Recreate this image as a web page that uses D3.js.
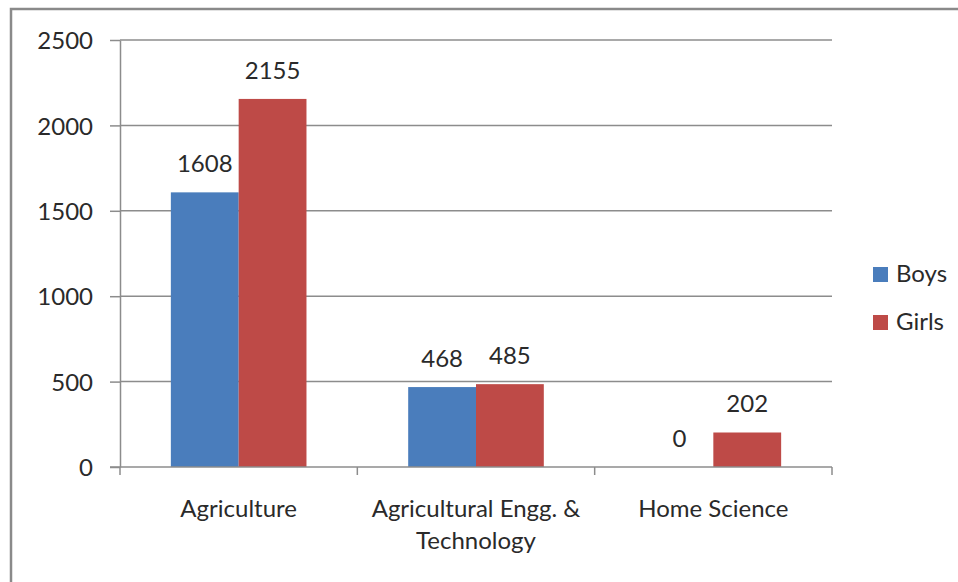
<!DOCTYPE html>
<html>
<head>
<meta charset="utf-8">
<script src="https://cdn.jsdelivr.net/npm/d3@7"></script>
<style>
  body { margin: 0; background: #fff; }
  svg { display: block; }
  text { font-family: Lato, "Open Sans", sans-serif; fill: #2a2a2a; }
</style>
</head>
<body>
<div id="chart"></div>
<script>
// chart data
var categories = ["Agriculture", "Agricultural Engg. & Technology", "Home Science"];
var categoryLines = [["Agriculture"], ["Agricultural Engg. &", "Technology"], ["Home Science"]];
var series = ["Boys", "Girls"];
var boys = [1608, 468, 0];
var girls = [2155, 485, 202];
var yTicks = [0, 500, 1000, 1500, 2000, 2500];

var colors = { Boys: "#4a7dbc", Girls: "#be4a47" };

var svgWidth = 958;
var svgHeight = 582;
var fontSize = "24px";

var plot = { left: 120, right: 832, top: 40, bottom: 467 };

var svg = d3.select("#chart")
  .append("svg")
  .attr("width", svgWidth)
  .attr("height", svgHeight);

// outer frame (right and bottom edges are off the picture)
svg.append("rect")
  .attr("x", 11)
  .attr("y", 9)
  .attr("width", 1000)
  .attr("height", 1000)
  .attr("fill", "none")
  .attr("stroke", "#8a8a8a")
  .attr("stroke-width", 2.5);

var x0 = d3.scaleBand()
  .domain(categories)
  .range([plot.left, plot.right])
  .padding(0);

var x1 = d3.scaleBand()
  .domain(series)
  .range([0, x0.bandwidth()])
  .paddingInner(0)
  .paddingOuter(0.75);

var y = d3.scaleLinear()
  .domain([0, 2500])
  .range([plot.bottom, plot.top]);

// gridlines
svg.append("g")
  .selectAll("line")
  .data(yTicks.filter(d => d > 0))
  .enter()
  .append("line")
  .attr("x1", plot.left)
  .attr("x2", plot.right)
  .attr("y1", d => y(d))
  .attr("y2", d => y(d))
  .attr("stroke", "#8c8c8c")
  .attr("stroke-width", 1.5);

// y axis
var yAxis = svg.append("g")
  .attr("transform", `translate(${plot.left},0)`)
  .call(d3.axisLeft(y)
    .tickValues(yTicks)
    .tickFormat(d3.format("d"))
    .tickSize(10)
    .tickPadding(17)
    .tickSizeOuter(0));

yAxis.select(".domain").attr("stroke", "#8c8c8c").attr("stroke-width", 1.5);
yAxis.selectAll(".tick line").attr("stroke", "#8c8c8c").attr("stroke-width", 1.5);
yAxis.selectAll("text")
  .style("font-size", fontSize)
  .attr("fill", "#2a2a2a")
  .attr("dy", "0.36em");

// bars
var rows = categories.map((c, i) => ({ cat: c, values: [
  { key: "Boys", value: boys[i] },
  { key: "Girls", value: girls[i] }
] }));

var groups = svg.append("g")
  .selectAll("g")
  .data(rows)
  .enter()
  .append("g")
  .attr("transform", d => `translate(${x0(d.cat)},0)`);

groups.selectAll("rect")
  .data(d => d.values)
  .enter()
  .append("rect")
  .attr("x", d => x1(d.key))
  .attr("y", d => y(d.value))
  .attr("width", x1.bandwidth())
  .attr("height", d => y(0) - y(d.value))
  .attr("fill", d => colors[d.key]);

groups.selectAll("text")
  .data(d => d.values)
  .enter()
  .append("text")
  .attr("x", d => x1(d.key) + x1.bandwidth() / 2)
  .attr("y", d => y(d.value) - 20)
  .attr("text-anchor", "middle")
  .style("font-size", fontSize)
  .text(d => d.value);

// x axis
var xAxis = svg.append("g")
  .attr("transform", `translate(0,${plot.bottom})`);

xAxis.append("line")
  .attr("x1", plot.left - 10)
  .attr("x2", plot.right)
  .attr("stroke", "#8c8c8c")
  .attr("stroke-width", 1.5);

var boundaries = categories.map(c => x0(c)).concat([plot.right]);
xAxis.selectAll(".tick-mark")
  .data(boundaries)
  .enter()
  .append("line")
  .attr("class", "tick-mark")
  .attr("x1", d => d)
  .attr("x2", d => d)
  .attr("y1", 0)
  .attr("y2", 8)
  .attr("stroke", "#8c8c8c")
  .attr("stroke-width", 1.5);

var catLabels = xAxis.selectAll(".cat-label")
  .data(categories)
  .enter()
  .append("text")
  .attr("class", "cat-label")
  .attr("text-anchor", "middle")
  .style("font-size", fontSize);

catLabels.each(function(d, i) {
  var t = d3.select(this);
  categoryLines[i].forEach(function(line, j) {
    t.append("tspan")
      .attr("x", x0(d) + x0.bandwidth() / 2)
      .attr("y", 50 + j * 32)
      .text(line);
  });
});

// legend
var legend = svg.append("g")
  .selectAll("g")
  .data(series)
  .enter()
  .append("g")
  .attr("transform", (d, i) => `translate(873,${267 + i * 48})`);

legend.append("rect")
  .attr("width", 15)
  .attr("height", 15)
  .attr("fill", d => colors[d]);

legend.append("text")
  .attr("x", 23)
  .attr("y", 15)
  .style("font-size", fontSize)
  .text(d => d);
</script>
</body>
</html>
